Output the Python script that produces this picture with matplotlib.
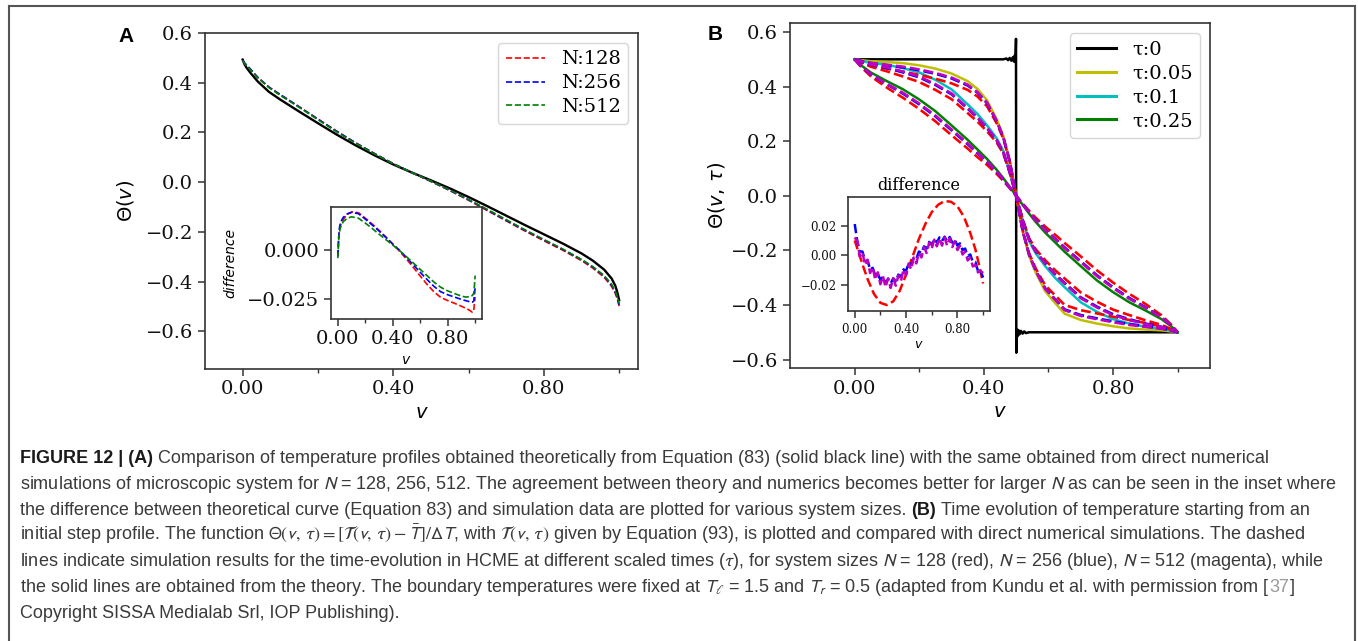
import matplotlib
matplotlib.use("Agg")
import matplotlib.pyplot as plt
from matplotlib.lines import Line2D
from matplotlib.ticker import FuncFormatter

W, H = 1358, 641

# ---------------------------
# Panel A: steady state profile
# ---------------------------
V_A = [0.0, 0.005, 0.01, 0.02, 0.04, 0.07, 0.1, 0.15, 0.2, 0.25, 0.3, 0.35, 0.4, 0.45, 0.5,
       0.55, 0.6, 0.65, 0.7, 0.75, 0.8, 0.85, 0.9, 0.93, 0.96, 0.98, 0.99, 0.995, 1.0]
THETA_A_THEORY = [0.493, 0.474, 0.461, 0.441, 0.405, 0.363, 0.332, 0.284, 0.237, 0.191, 0.148, 0.108,
                  0.071, 0.038, 0.007, -0.025, -0.06, -0.097, -0.135, -0.173, -0.21, -0.247, -0.287,
                  -0.316, -0.352, -0.388, -0.418, -0.443, -0.475]
THETA_A_N128 = [0.49, 0.478, 0.47, 0.454, 0.421, 0.382, 0.352, 0.303, 0.254, 0.205, 0.158, 0.115,
                0.074, 0.038, 0.003, -0.034, -0.073, -0.115, -0.156, -0.197, -0.236, -0.274, -0.316,
                -0.346, -0.383, -0.42, -0.449, -0.47, -0.499]
THETA_A_N256 = [0.49, 0.48, 0.472, 0.456, 0.422, 0.382, 0.352, 0.303, 0.253, 0.204, 0.158, 0.115,
                0.074, 0.038, 0.003, -0.033, -0.071, -0.112, -0.154, -0.194, -0.233, -0.271, -0.312,
                -0.342, -0.378, -0.415, -0.444, -0.466, -0.494]
THETA_A_N512 = [0.489, 0.478, 0.47, 0.453, 0.42, 0.38, 0.349, 0.301, 0.251, 0.202, 0.156, 0.114,
                0.074, 0.038, 0.004, -0.032, -0.07, -0.11, -0.151, -0.192, -0.231, -0.269, -0.311,
                -0.34, -0.376, -0.411, -0.44, -0.461, -0.488]
DIFF_A_N128 = [-0.003, 0.004, 0.009, 0.013, 0.016, 0.0185, 0.0197, 0.0193, 0.0165, 0.0135, 0.0103,
               0.0068, 0.0032, -0.0005, -0.0045, -0.0088, -0.0132, -0.0175, -0.0213, -0.0242,
               -0.0258, -0.0272, -0.0287, -0.0297, -0.0308, -0.0318, -0.031, -0.027, -0.024]
DIFF_A_N256 = [-0.003, 0.006, 0.011, 0.0145, 0.017, 0.0188, 0.0195, 0.0188, 0.016, 0.013, 0.0099,
               0.0066, 0.0032, 0.0, -0.0037, -0.0075, -0.0113, -0.015, -0.0185, -0.0213, -0.0228,
               -0.024, -0.0252, -0.0258, -0.0264, -0.0266, -0.026, -0.023, -0.019]
DIFF_A_N512 = [-0.004, 0.004, 0.009, 0.012, 0.0148, 0.0165, 0.0172, 0.0165, 0.014, 0.0112, 0.0083,
               0.0055, 0.0027, -0.0002, -0.0033, -0.0065, -0.0098, -0.013, -0.0163, -0.019, -0.0208,
               -0.0222, -0.0235, -0.024, -0.0238, -0.0232, -0.022, -0.018, -0.013]
N_LABELS = ["N:128", "N:256", "N:512"]
A_XTICKS = [0.0, 0.4, 0.8]
A_XMINOR = [0.2, 0.6, 1.0]
A_YTICKS = [-0.6, -0.4, -0.2, 0.0, 0.2, 0.4, 0.6]
A_INSET_YTICKS = [-0.025, 0.0]

# ---------------------------
# Panel B: time evolution from a step
# ---------------------------
B_STEP_V = [0.0, 0.46, 0.47, 0.475, 0.48, 0.485, 0.49, 0.493, 0.496, 0.498, 0.4995, 0.5, 0.5005,
            0.502, 0.504, 0.507, 0.51, 0.515, 0.52, 0.525, 0.53, 0.54, 1.0]
B_STEP_THETA = [0.5, 0.5, 0.503, 0.497, 0.505, 0.495, 0.508, 0.492, 0.515, 0.49, 0.575, 0.0, -0.575,
                -0.49, -0.515, -0.492, -0.508, -0.495, -0.505, -0.497, -0.503, -0.5, -0.5]

V_B = [0.0, 0.02, 0.05, 0.1, 0.15, 0.2, 0.25, 0.3, 0.35, 0.38, 0.41, 0.44, 0.46, 0.48, 0.5,
       0.52, 0.54, 0.56, 0.59, 0.62, 0.65, 0.7, 0.75, 0.8, 0.85, 0.9, 0.95, 0.98, 1.0]
# theory, tau = 0.05 / 0.1 / 0.25
THETA_B_005 = [0.5, 0.497, 0.493, 0.49, 0.486, 0.478, 0.466, 0.448, 0.42, 0.392, 0.35, 0.28, 0.22, 0.13, 0.0,
               -0.13, -0.22, -0.28, -0.35, -0.392, -0.432, -0.455, -0.468, -0.478, -0.486, -0.49, -0.493, -0.497, -0.5]
THETA_B_010 = [0.5, 0.494, 0.487, 0.48, 0.468, 0.452, 0.425, 0.39, 0.335, 0.3, 0.258, 0.21, 0.165, 0.09, 0.0,
               -0.09, -0.165, -0.21, -0.258, -0.3, -0.335, -0.39, -0.425, -0.452, -0.468, -0.48, -0.487, -0.494, -0.5]
THETA_B_025 = [0.5, 0.478, 0.452, 0.42, 0.39, 0.353, 0.31, 0.258, 0.205, 0.17, 0.135, 0.095, 0.065, 0.033, 0.0,
               -0.033, -0.065, -0.095, -0.135, -0.17, -0.205, -0.258, -0.31, -0.353, -0.39, -0.42, -0.452, -0.478, -0.5]
# simulations (dashed)
SIM_005_N128 = [0.5, 0.491, 0.479, 0.466, 0.455, 0.443, 0.429, 0.412, 0.388, 0.364, 0.328, 0.265, 0.21, 0.125, 0.0,
                -0.125, -0.21, -0.265, -0.328, -0.364, -0.4, -0.419, -0.431, -0.443, -0.455, -0.466, -0.479, -0.491, -0.5]
SIM_005_N256 = [0.5, 0.494, 0.486, 0.478, 0.47, 0.46, 0.447, 0.43, 0.404, 0.378, 0.339, 0.272, 0.215, 0.127, 0.0,
                -0.127, -0.215, -0.272, -0.339, -0.378, -0.416, -0.437, -0.449, -0.46, -0.47, -0.478, -0.486, -0.494, -0.5]
SIM_005_N512 = [0.5, 0.494, 0.487, 0.48, 0.473, 0.463, 0.45, 0.433, 0.407, 0.38, 0.341, 0.274, 0.216, 0.128, 0.0,
                -0.128, -0.216, -0.274, -0.341, -0.38, -0.419, -0.44, -0.452, -0.463, -0.473, -0.48, -0.487, -0.494, -0.5]
SIM_010_N128 = [0.5, 0.488, 0.473, 0.456, 0.437, 0.417, 0.388, 0.354, 0.303, 0.272, 0.236, 0.195, 0.155, 0.085, 0.0,
                -0.085, -0.155, -0.195, -0.236, -0.272, -0.303, -0.354, -0.388, -0.417, -0.437, -0.456, -0.473, -0.488, -0.5]
SIM_010_N256 = [0.5, 0.491, 0.48, 0.468, 0.452, 0.434, 0.406, 0.372, 0.319, 0.286, 0.247, 0.202, 0.16, 0.087, 0.0,
                -0.087, -0.16, -0.202, -0.247, -0.286, -0.319, -0.372, -0.406, -0.434, -0.452, -0.468, -0.48, -0.491, -0.5]
SIM_010_N512 = [0.5, 0.491, 0.481, 0.47, 0.455, 0.437, 0.409, 0.375, 0.322, 0.288, 0.249, 0.204, 0.161, 0.088, 0.0,
                -0.088, -0.161, -0.204, -0.249, -0.288, -0.322, -0.375, -0.409, -0.437, -0.455, -0.47, -0.481, -0.491, -0.5]
SIM_025_N128 = [0.5, 0.472, 0.438, 0.396, 0.359, 0.318, 0.273, 0.222, 0.173, 0.142, 0.113, 0.08, 0.055, 0.028, 0.0,
                -0.028, -0.055, -0.08, -0.113, -0.142, -0.173, -0.222, -0.273, -0.318, -0.359, -0.396, -0.438, -0.472, -0.5]
SIM_025_N256 = [0.5, 0.475, 0.445, 0.408, 0.374, 0.335, 0.291, 0.24, 0.189, 0.156, 0.124, 0.087, 0.06, 0.03, 0.0,
                -0.03, -0.06, -0.087, -0.124, -0.156, -0.189, -0.24, -0.291, -0.335, -0.374, -0.408, -0.445, -0.475, -0.5]
SIM_025_N512 = [0.5, 0.475, 0.446, 0.41, 0.377, 0.338, 0.294, 0.243, 0.192, 0.158, 0.126, 0.089, 0.061, 0.031, 0.0,
                -0.031, -0.061, -0.089, -0.126, -0.158, -0.192, -0.243, -0.294, -0.338, -0.377, -0.41, -0.446, -0.475, -0.5]
TAU_LABELS = ["τ:0", "τ:0.05", "τ:0.1", "τ:0.25"]

# inset of panel B
V_DIFF_B = [0.0, 0.03, 0.06, 0.1, 0.15, 0.2, 0.25, 0.3, 0.35, 0.4, 0.45, 0.5, 0.55, 0.6, 0.65, 0.7,
            0.75, 0.8, 0.85, 0.9, 0.94, 0.97, 1.0]
DIFF_B_N128 = [0.010, 0.002, -0.006, -0.016, -0.026, -0.032, -0.0335, -0.031, -0.024, -0.013, -0.001,
               0.011, 0.021, 0.029, 0.034, 0.0365, 0.036, 0.033, 0.026, 0.015, 0.004, -0.007, -0.019]
V_DIFF_NOISY = [0.0, 0.02, 0.04, 0.06, 0.08, 0.1, 0.12, 0.14, 0.16, 0.18, 0.2, 0.22, 0.24, 0.26, 0.28,
                0.3, 0.32, 0.34, 0.36, 0.38, 0.4, 0.42, 0.44, 0.46, 0.48, 0.5, 0.52, 0.54, 0.56, 0.58,
                0.6, 0.62, 0.64, 0.66, 0.68, 0.7, 0.72, 0.74, 0.76, 0.78, 0.8, 0.82, 0.84, 0.86, 0.88,
                0.9, 0.92, 0.94, 0.96, 0.98, 1.0]
DIFF_B_N256 = [0.021, 0.0095, 0.0025, 0.0025, -0.0035, -0.0035, -0.0095, -0.0085, -0.0135, -0.0125,
               -0.0165, -0.0145, -0.0185, -0.016, -0.019, -0.0155, -0.0175, -0.013, -0.0145, -0.0095,
               -0.0105, -0.0055, -0.0065, -0.0015, -0.0025, 0.0025, 0.0015, 0.006, 0.0045, 0.009,
               0.007, 0.011, 0.0085, 0.012, 0.0095, 0.0125, 0.0095, 0.0123, 0.0085, 0.0105, 0.0065,
               0.008, 0.0035, 0.0045, -0.0005, 0.0005, -0.0045, -0.0045, -0.0105, -0.0105, -0.015]
DIFF_B_N512 = [0.012, 0.0095, -0.001, 0.002, -0.0065, -0.003, -0.012, -0.008, -0.0165, -0.0115,
               -0.0195, -0.014, -0.0215, -0.0155, -0.022, -0.0155, -0.0205, -0.0135, -0.0175, -0.0095,
               -0.0135, -0.0055, -0.0095, -0.0015, -0.0055, 0.0015, -0.0015, 0.0055, 0.0015, 0.0085,
               0.0045, 0.0105, 0.006, 0.0115, 0.0065, 0.012, 0.0065, 0.0115, 0.0055, 0.0095, 0.0035,
               0.0065, 0.0005, 0.0025, -0.0035, -0.0015, -0.0075, -0.0065, -0.0115, -0.0105, -0.012]
B_YTICKS = [-0.6, -0.4, -0.2, 0.0, 0.2, 0.4, 0.6]
B_INSET_YTICKS = [-0.02, 0.0, 0.02]

CAPTION_LINES = [
    [("FIGURE 12 | (A)", "bold"), (" ", None),
     ("Comparison of temperature profiles obtained theoretically from Equation (83) (solid black line) "
      "with the same obtained from direct numerical", "reg")],
    [("simulations of microscopic system for $N$ = 128, 256, 512. The agreement between theory and "
      "numerics becomes better for larger $N$ as can be seen in the inset where", "reg")],
    [("the difference between theoretical curve (Equation 83) and simulation data are plotted for "
      "various system sizes.", "reg"), (" ", None), ("(B)", "bold"), (" ", None),
     ("Time evolution of temperature starting from an", "reg")],
    [("initial step profile. The function $\\Theta(v,\\,\\tau) = [\\mathcal{T}(v,\\,\\tau) - \\bar{T}]/\\Delta T$, "
      "with $\\mathcal{T}(v,\\,\\tau)$ given by Equation (93), is plotted and compared with direct "
      "numerical simulations. The dashed", "reg")],
    [("lines indicate simulation results for the time-evolution in HCME at different scaled times ($\\tau$), "
      "for system sizes $N$ = 128 (red), $N$ = 256 (blue), $N$ = 512 (magenta), while", "reg")],
    [("the solid lines are obtained from the theory. The boundary temperatures were fixed at "
      "$T_\\ell$ = 1.5 and $T_r$ = 0.5 (adapted from Kundu et al. with permission from [", "reg"),
     ("37", "gray"), ("]", "reg")],
    [("Copyright SISSA Medialab Srl, IOP Publishing).", "reg")],
]

CAPTION_STYLES = {
    "reg": dict(color="#3a3a3a", fontweight="normal"),
    "bold": dict(color="#1a1a1a", fontweight="bold"),
    "gray": dict(color="#9a9a9a", fontweight="normal"),
}

SPINE = "#333333"


def px_rect(left, top, right, bottom):
    return [left / W, 1 - bottom / H, (right - left) / W, (bottom - top) / H]


def minus_fmt(fmt):
    def f(val, pos):
        if abs(val) < 1e-12:
            val = 0.0
        return fmt.format(val).replace("-", "\u2212")
    return FuncFormatter(f)


def style_axes(ax, labelsize):
    for s in ax.spines.values():
        s.set_color(SPINE)
        s.set_linewidth(1.2)
    ax.tick_params(which="major", direction="out", length=5, width=1.1, color=SPINE,
                   labelsize=labelsize, labelcolor="#111111")
    ax.tick_params(which="minor", direction="out", length=3, width=1.0, color=SPINE)


def plot_panel_a(fig):
    ax = fig.add_axes(px_rect(205, 33, 638, 368.5))
    ax.plot(V_A, THETA_A_THEORY, color="black", lw=1.7)
    ax.plot(V_A, THETA_A_N128, "--", color="red", lw=1.2, label=N_LABELS[0])
    ax.plot(V_A, THETA_A_N256, "--", color="blue", lw=1.2, label=N_LABELS[1])
    ax.plot(V_A, THETA_A_N512, "--", color="green", lw=1.2, label=N_LABELS[2])
    ax.set_xlim(-0.1, 1.05)
    ax.set_ylim(-0.75, 0.6)
    ax.set_xticks(A_XTICKS)
    ax.set_xticks(A_XMINOR, minor=True)
    ax.set_yticks(A_YTICKS)
    ax.xaxis.set_major_formatter(minus_fmt("{:.2f}"))
    ax.yaxis.set_major_formatter(minus_fmt("{:.1f}"))
    style_axes(ax, 14)
    ax.set_ylabel(r"$\Theta(v)$", fontsize=14)
    ax.yaxis.set_label_coords(-0.16, 0.5)
    ax.set_xlabel(r"$v$", fontsize=14)
    ax.xaxis.set_label_coords(0.5, -0.105)
    ax.legend(loc="upper right", fontsize=14, labelspacing=0.3, borderaxespad=0.5)

    ins = fig.add_axes(px_rect(331, 206.5, 482, 318.5))
    ins.plot(V_A, DIFF_A_N128, "--", color="red", lw=1.2)
    ins.plot(V_A, DIFF_A_N256, "--", color="blue", lw=1.2)
    ins.plot(V_A, DIFF_A_N512, "--", color="green", lw=1.2)
    ins.set_xlim(-0.05, 1.05)
    ins.set_ylim(-0.035, 0.0225)
    ins.set_xticks(A_XTICKS)
    ins.set_xticks(A_XMINOR, minor=True)
    ins.set_yticks(A_INSET_YTICKS)
    ins.xaxis.set_major_formatter(minus_fmt("{:.2f}"))
    ins.yaxis.set_major_formatter(minus_fmt("{:.3f}"))
    style_axes(ins, 14)
    ins.set_ylabel("difference", fontsize=10, fontstyle="italic", family="DejaVu Sans")
    ins.yaxis.set_label_coords(-0.62, 0.5)
    ins.set_xlabel(r"$v$", fontsize=10)
    ins.xaxis.set_label_coords(0.5, -0.31)


def plot_panel_b(fig):
    ax = fig.add_axes(px_rect(790, 23.3, 1210, 368.3))
    ax.plot(B_STEP_V, B_STEP_THETA, color="black", lw=1.8, label=TAU_LABELS[0])
    ax.plot(V_B, THETA_B_005, color="y", lw=1.8, label=TAU_LABELS[1])
    ax.plot(V_B, THETA_B_010, color="c", lw=1.8, label=TAU_LABELS[2])
    ax.plot(V_B, THETA_B_025, color="g", lw=1.8, label=TAU_LABELS[3])
    for sims in ([SIM_005_N128, SIM_005_N256, SIM_005_N512],
                 [SIM_010_N128, SIM_010_N256, SIM_010_N512],
                 [SIM_025_N128, SIM_025_N256, SIM_025_N512]):
        for vals, col in zip(sims, ["red", "blue", "m"]):
            ax.plot(V_B, vals, "--", color=col, lw=1.9)
    ax.set_xlim(-0.2, 1.1)
    ax.set_ylim(-0.632, 0.632)
    ax.set_xticks(A_XTICKS)
    ax.set_xticks(A_XMINOR, minor=True)
    ax.set_yticks(B_YTICKS)
    ax.xaxis.set_major_formatter(minus_fmt("{:.2f}"))
    ax.yaxis.set_major_formatter(minus_fmt("{:.1f}"))
    style_axes(ax, 14)
    ax.set_ylabel(r"$\Theta(v,\,\tau)$", fontsize=14)
    ax.yaxis.set_label_coords(-0.15, 0.5)
    ax.set_xlabel(r"$v$", fontsize=14)
    ax.xaxis.set_label_coords(0.5, -0.1)
    leg = ax.legend(loc="upper right", fontsize=14, labelspacing=0.3, borderaxespad=0.5)
    for line in leg.get_lines():
        line.set_linewidth(2.2)

    ins = fig.add_axes(px_rect(848.3, 197.3, 989.5, 310.7))
    ins.plot(V_DIFF_B, DIFF_B_N128, "--", color="red", lw=1.8)
    ins.plot(V_DIFF_NOISY, DIFF_B_N256, "--", color="blue", lw=1.8)
    ins.plot(V_DIFF_NOISY, DIFF_B_N512, "--", color="m", lw=1.8)
    ins.set_xlim(-0.05, 1.05)
    ins.set_ylim(-0.0373, 0.039)
    ins.set_xticks(A_XTICKS)
    ins.set_xticks(A_XMINOR, minor=True)
    ins.set_yticks(B_INSET_YTICKS)
    ins.xaxis.set_major_formatter(minus_fmt("{:.2f}"))
    ins.yaxis.set_major_formatter(minus_fmt("{:.2f}"))
    style_axes(ins, 8.5)
    ins.set_title("difference", fontsize=11.5, pad=5)
    ins.set_xlabel(r"$v$", fontsize=9)
    ins.xaxis.set_label_coords(0.5, -0.24)


def draw_runs(fig, renderer, runs, x_px, y_px, size, keep=True):
    x = x_px
    for text, kind in runs:
        if kind is None:
            x += 0.278 * size * fig.dpi / 72
            continue
        t = fig.text(x / W, 1 - y_px / H, text, fontsize=size, ha="left", va="baseline",
                     family="Liberation Sans", math_fontfamily="stixsans", **CAPTION_STYLES[kind])
        x += t.get_window_extent(renderer).width
        if not keep:
            t.remove()
    return x - x_px


def draw_caption(fig):
    renderer = fig.canvas.get_renderer()
    base = 12.0
    width = draw_runs(fig, renderer, CAPTION_LINES[1], 20, 480, base, keep=False)
    size = base * 1318 / width
    for i, runs in enumerate(CAPTION_LINES):
        draw_runs(fig, renderer, runs, 20, 463 + i * 25.8, size)


def draw_frame(fig):
    kw = dict(transform=fig.transFigure, color="#555555", lw=1.5)
    fig.add_artist(Line2D([8.5 / W, 8.5 / W], [0, 1 - 6 / H], **kw))
    fig.add_artist(Line2D([8.5 / W, 1355 / W], [1 - 6 / H, 1 - 6 / H], **kw))
    fig.add_artist(Line2D([1355 / W, 1355 / W], [0, 1 - 6 / H], **kw))


def main():
    plt.rcParams["font.family"] = ["DejaVu Serif"]
    fig = plt.figure(figsize=(W / 100, H / 100), dpi=100)
    fig.patch.set_facecolor("white")

    plot_panel_a(fig)
    plot_panel_b(fig)

    fig.text(126 / W, 1 - 36 / H, "A", fontsize=15, fontweight="bold", family="Liberation Sans",
             ha="center", va="center")
    fig.text(715 / W, 1 - 35 / H, "B", fontsize=15, fontweight="bold", family="Liberation Sans",
             ha="center", va="center")

    draw_frame(fig)
    draw_caption(fig)

    fig.savefig("out.png", dpi=100)


if __name__ == "__main__":
    main()
